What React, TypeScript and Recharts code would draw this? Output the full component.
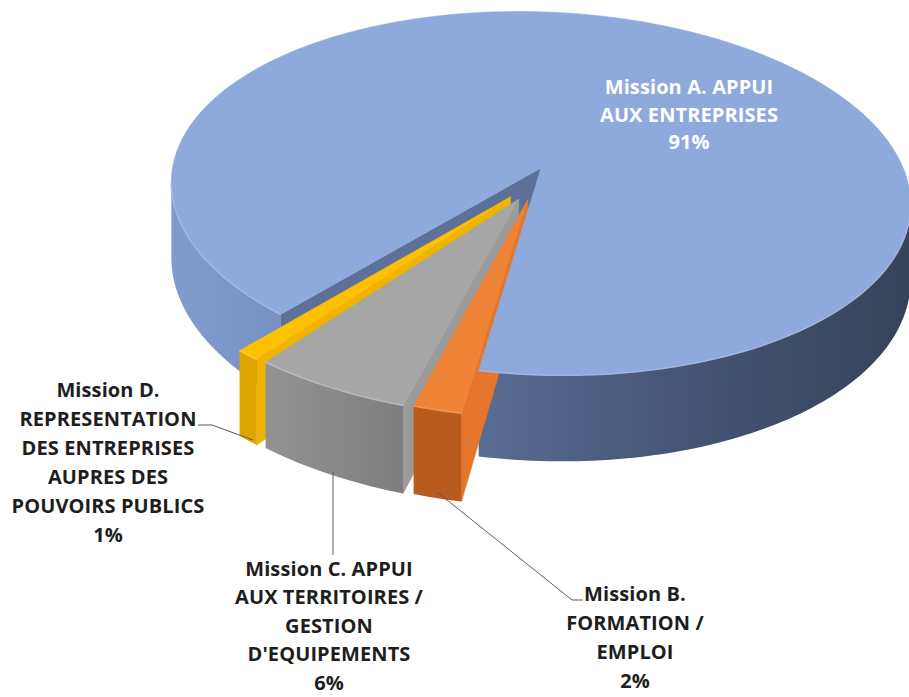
import React from 'react';
import { PieChart, Pie } from 'recharts';

// ---------- data ----------
const categories = [
  'Mission A. APPUI AUX ENTREPRISES',
  'Mission B. FORMATION / EMPLOI',
  "Mission C. APPUI AUX TERRITOIRES / GESTION D'EQUIPEMENTS",
  'Mission D. REPRESENTATION DES ENTREPRISES AUPRES DES POUVOIRS PUBLICS',
];
const shares = [91.4, 1.8, 5.9, 0.9];
const labelLines = [
  ['Mission A. APPUI', 'AUX ENTREPRISES'],
  ['Mission B.', 'FORMATION /', 'EMPLOI'],
  ['Mission C. APPUI', 'AUX TERRITOIRES /', 'GESTION', "D'EQUIPEMENTS"],
  ['Mission D.', 'REPRESENTATION', 'DES ENTREPRISES', 'AUPRES DES', 'POUVOIRS PUBLICS'],
];

const data = categories.map((name, i) => ({ name, value: shares[i] }));

// ---------- style / layout ----------
const W = 909;
const H = 697;
const CX = 541;
const CY = 168;
const RX = 366;
const RY_RATIO = 178 / 366;
const Q = 0.14; // perspective
const TILT = 0.03;
const DEPTH = 74;
const START = -129.4;
// explosion offsets in unit-disk coordinates (u to the right, v to the back)
const EXPLODE_OFFSETS = [
  [0, 0],
  [-0.035, -0.175],
  [-0.059, -0.174],
  [-0.081, -0.163],
];
const FONT = "'Open Sans', Lato, sans-serif";

const STYLES = [
  { top: '#8eaadc', wall: 'url(#wallA)', face: '#5d7198', rim: '#a2b9e5' },
  { top: '#ef8336', wall: '#b95b1d', face: '#e5762b', rim: '#f39a58' },
  { top: '#a6a6a6', wall: 'url(#wallC)', face: '#9b9b9b', rim: '#bcbcbc' },
  { top: '#ffc000', wall: '#dea600', face: '#efb400', rim: '#ffd040' },
];

const LABEL_LAYOUT = [
  { x: 689, y: 94, lh: 27.5, color: '#ffffff', leader: null },
  { x: 635, y: 601, lh: 29, color: '#1e1e1e', leader: [[437, 492], [572, 600], [583, 600]] },
  { x: 329, y: 576, lh: 28.4, color: '#1e1e1e', leader: [[333, 472], [333, 555]] },
  { x: 108, y: 397, lh: 29, color: '#1e1e1e', leader: [[198, 425], [212, 425], [253, 440]] },
];

const rad = (d: number) => (d * Math.PI) / 180;
const deg = (r: number) => (r * 180) / Math.PI;

function makeProj(cx: number, cy: number, rx: number) {
  const ry = rx * RY_RATIO;
  return (u: number, v: number, h: number) => {
    const s = 1 / (1 + Q * v);
    const dx = rx * u * s;
    return [cx + dx, cy - ry * v * s + DEPTH * h * s + TILT * dx];
  };
}

function arcPts(P: any, ou: number, ov: number, a: number, b: number, h: number) {
  const n = Math.max(2, Math.ceil(Math.abs(b - a) / 1.2) + 1);
  const pts: number[][] = [];
  for (let i = 0; i < n; i++) {
    const t = a + ((b - a) * i) / (n - 1);
    pts.push(P(ou + Math.cos(rad(t)), ov + Math.sin(rad(t)), h));
  }
  return pts;
}

const fmt = (pts: number[][]) => pts.map((p, i) => `${i ? 'L' : 'M'}${p[0].toFixed(2)},${p[1].toFixed(2)}`).join(' ');

function getIndex(props: any) {
  const nm = props?.payload?.name ?? props?.name;
  const j = categories.indexOf(nm);
  if (j >= 0) return j;
  return typeof props.index === 'number' ? props.index : 0;
}

function geometry(props: any, idx: number) {
  const cx = typeof props.cx === 'number' ? props.cx : CX;
  const cy = typeof props.cy === 'number' ? props.cy : CY;
  const rx = typeof props.outerRadius === 'number' ? props.outerRadius : RX;
  const P = makeProj(cx, cy, rx);
  const a0 = props.startAngle;
  const a1 = props.endAngle;
  const [ou, ov] = EXPLODE_OFFSETS[idx];
  const lo = Math.min(a0, a1);
  const hi = Math.max(a0, a1);

  const top = fmt([P(ou, ov, 0), ...arcPts(P, ou, ov, a0, a1, 0)]) + ' Z';

  const faces: string[] = [];
  const camV = -1 / Q;
  const edges = [
    { a: hi, n: [-Math.sin(rad(hi)), Math.cos(rad(hi))] },
    { a: lo, n: [Math.sin(rad(lo)), -Math.cos(rad(lo))] },
  ];
  edges.forEach(({ a, n }) => {
    const vis = (0 - ou) * n[0] + (camV - ov) * n[1] > 0;
    if (!vis) return;
    const du = Math.cos(rad(a));
    const dv = Math.sin(rad(a));
    faces.push(fmt([P(ou, ov, 0), P(ou + du, ov + dv, 0), P(ou + du, ov + dv, 1), P(ou, ov, 1)]) + ' Z');
  });

  const vs = 180 + deg(Math.asin(Q));
  const ve = 360 - deg(Math.asin(Q));
  const walls: string[] = [];
  const rims: string[] = [];
  for (let k = -3; k <= 2; k++) {
    const a = Math.max(lo, vs + 360 * k);
    const b = Math.min(hi, ve + 360 * k);
    if (b > a) {
      const t = arcPts(P, ou, ov, a, b, 0);
      const bt = arcPts(P, ou, ov, b, a, 1);
      walls.push(fmt([...t, ...bt]) + ' Z');
      rims.push(fmt(t));
    }
  }
  return { top, faces, walls, rims };
}

const Defs = () => (
  <defs>
    <linearGradient id="wallA" gradientUnits="userSpaceOnUse" x1={170} y1={0} x2={909} y2={0}>
      <stop offset="0" stopColor="#819cce" />
      <stop offset="0.15" stopColor="#7791c3" />
      <stop offset="0.42" stopColor="#596c91" />
      <stop offset="0.65" stopColor="#48587b" />
      <stop offset="0.87" stopColor="#3d4a64" />
      <stop offset="1" stopColor="#37435b" />
    </linearGradient>
    <linearGradient id="wallC" gradientUnits="userSpaceOnUse" x1={265} y1={0} x2={415} y2={0}>
      <stop offset="0" stopColor="#939393" />
      <stop offset="1" stopColor="#7c7c7c" />
    </linearGradient>
  </defs>
);

function TopFace({ g, st }: any) {
  return (
    <g>
      <path d={g.top} fill={st.top} stroke={st.top} strokeWidth={0.6} />
      {g.rims.map((d: string, i: number) => (
        <path key={i} d={d} fill="none" stroke={st.rim} strokeWidth={1.6} strokeOpacity={0.85} />
      ))}
    </g>
  );
}

function renderPass(pass: string) {
  return (props: any) => {
    const idx = getIndex(props);
    const st = STYLES[idx];
    if (pass === 'labels') {
      const L = LABEL_LAYOUT[idx];
      const pct = typeof props.percent === 'number' ? props.percent : shares[idx] / shares.reduce((s, v) => s + v, 0);
      const lines = [...labelLines[idx], `${Math.round(pct * 100)}%`];
      return (
        <g>
          {L.leader && (
            <polyline points={L.leader.map((p) => p.join(',')).join(' ')} fill="none" stroke="#5a5a5a" strokeWidth={1} />
          )}
          {lines.map((t, i) => (
            <text
              key={i}
              x={L.x}
              y={L.y + i * L.lh}
              textAnchor="middle"
              fontFamily={FONT}
              fontWeight={700}
              fontSize={20}
              letterSpacing={0.1}
              fill={L.color}
            >
              {t}
            </text>
          ))}
        </g>
      );
    }
    const g = geometry(props, idx);
    if (pass === 'A-back') {
      if (idx !== 0) return <g />;
      return (
        <g>
          <Defs />
          {g.faces.map((d, i) => (
            <path key={'f' + i} d={d} fill={st.face} stroke={st.face} strokeWidth={0.5} />
          ))}
          {g.walls.map((d, i) => (
            <path key={'w' + i} d={d} fill={st.wall} stroke="none" />
          ))}
        </g>
      );
    }
    if (pass.startsWith('face-')) {
      const want = Number(pass.slice(5));
      if (idx !== want) return <g />;
      return (
        <g>
          {g.faces.map((d, i) => (
            <path key={i} d={d} fill={st.face} stroke={st.face} strokeWidth={0.5} />
          ))}
        </g>
      );
    }
    if (pass === 'A-top') {
      if (idx !== 0) return <g />;
      return <TopFace g={g} st={st} />;
    }
    if (pass === 'walls') {
      if (idx === 0) return <g />;
      return (
        <g>
          {g.walls.map((d, i) => (
            <path key={i} d={d} fill={st.wall} stroke="none" />
          ))}
        </g>
      );
    }
    if (pass === 'tops') {
      if (idx === 0) return <g />;
      return <TopFace g={g} st={st} />;
    }
    return <g />;
  };
}

const PASSES = ['A-back', 'face-3', 'face-2', 'face-1', 'A-top', 'walls', 'tops', 'labels'];

export default function App() {
  return (
    <div style={{ position: 'absolute', left: 0, top: 0, width: W, height: H, background: '#ffffff' }}>
      <PieChart width={W} height={H} margin={{ top: 0, right: 0, bottom: 0, left: 0 }}>
        {PASSES.map((pass) => (
          <Pie
            key={pass}
            data={data}
            dataKey="value"
            nameKey="name"
            cx={CX}
            cy={CY}
            innerRadius={0}
            outerRadius={RX}
            startAngle={START}
            endAngle={START - 360}
            fill="none"
            stroke="none"
            label={renderPass(pass)}
            labelLine={false}
            isAnimationActive={false}
          />
        ))}
      </PieChart>
    </div>
  );
}
